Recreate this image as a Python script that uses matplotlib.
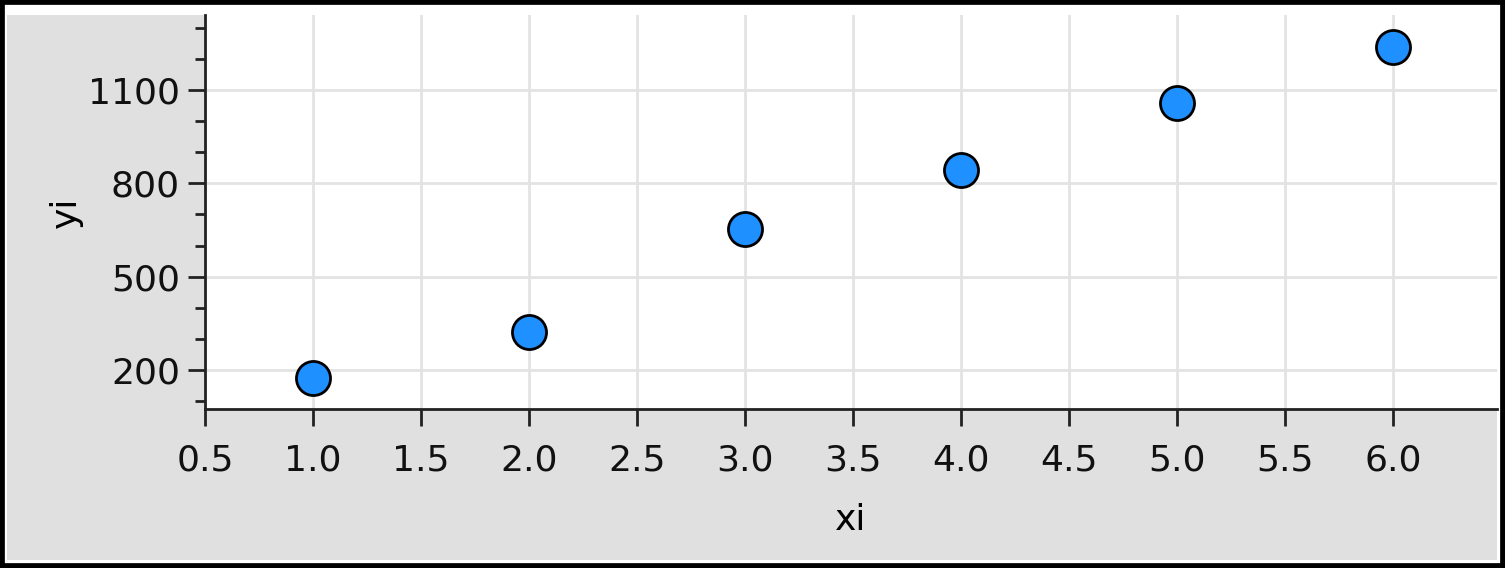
import matplotlib
matplotlib.use('Agg')
import matplotlib.pyplot as plt
from matplotlib.patches import Rectangle
from matplotlib.ticker import MultipleLocator

# datos
xi = [1, 2, 3, 4, 5, 6]
yi = [174, 322, 653, 843, 1058, 1238]

W, H = 1505, 568
fig = plt.figure(figsize=(W/100, H/100), dpi=100)
fig.patch.set_facecolor('white')

# fondo gris de la ventana (debajo de los ejes)
fig.patches.append(Rectangle((7/W, (H-560)/H), (1497-7)/W, (560-15)/H,
                             transform=fig.transFigure, facecolor='#e0e0e0',
                             edgecolor='none', zorder=-10))
# marco negro
fig.patches.append(Rectangle((0, 0), 1, 1, transform=fig.transFigure,
                             fill=False, edgecolor='black', linewidth=7, zorder=10))

ax = fig.add_axes([205/W, (H-409)/H, (1497-205)/W, (409-15)/H])
ax.set_facecolor('white')

ax.scatter(xi, yi, s=34**2*0.52, color='#1e90ff', edgecolor='black',
           linewidth=2, zorder=3, clip_on=False)

ax.set_xlim(0.5, 6.48)
ax.set_ylim(75, 1341)
ax.set_xticks([0.5, 1.0, 1.5, 2.0, 2.5, 3.0, 3.5, 4.0, 4.5, 5.0, 5.5, 6.0])
ax.set_xticklabels(['0.5', '1.0', '1.5', '2.0', '2.5', '3.0', '3.5', '4.0', '4.5', '5.0', '5.5', '6.0'])
ax.set_yticks([200, 500, 800, 1100])
ax.yaxis.set_minor_locator(MultipleLocator(100))

ax.grid(True, which='major', color='#e3e3e3', linewidth=2, zorder=0)
ax.set_axisbelow(True)

for s in ['top', 'right']:
    ax.spines[s].set_visible(False)
for s in ['left', 'bottom']:
    ax.spines[s].set_linewidth(2)
    ax.spines[s].set_color('#222222')

ax.tick_params(axis='both', which='major', length=12, width=2, labelsize=26,
               color='#222222', labelcolor='#111111', pad=6)
ax.tick_params(axis='x', which='major', pad=13)
ax.tick_params(axis='y', which='minor', length=7, width=2, color='#222222')

ax.set_xlabel('xi', fontsize=26, labelpad=18)
ax.set_ylabel('yi', fontsize=26, labelpad=4)

fig.savefig('out.png', dpi=100, facecolor=fig.get_facecolor())
